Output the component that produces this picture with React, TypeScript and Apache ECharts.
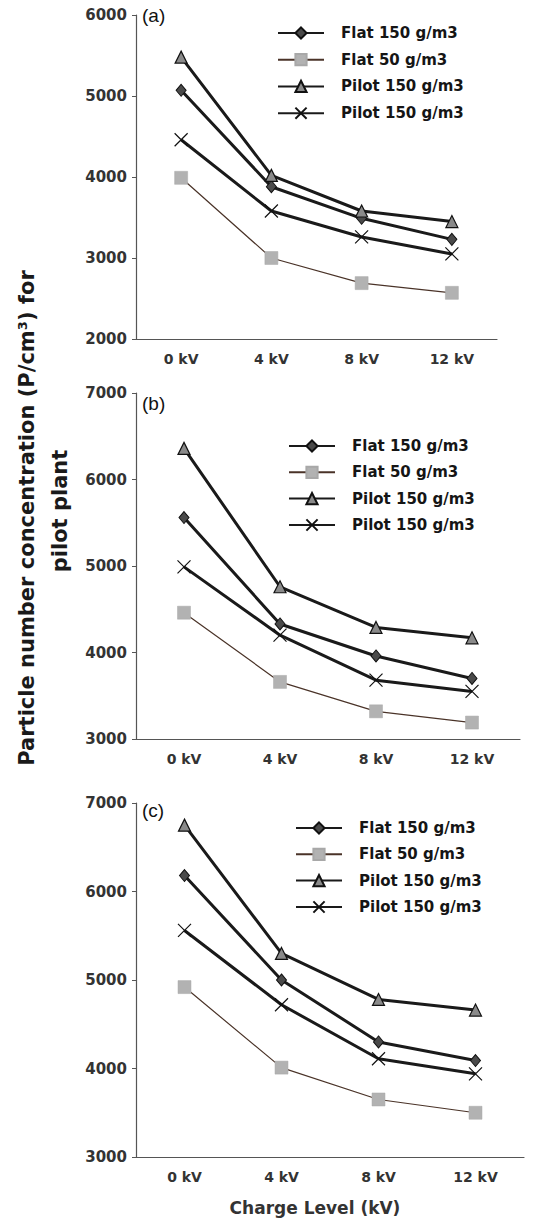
import React, { useEffect, useRef } from "react";
import * as echarts from "echarts";

const categories = ["0 kV", "4 kV", "8 kV", "12 kV"];
const legendLabels = ["Flat 150 g/m3", "Flat 50 g/m3", "Pilot 150 g/m3", "Pilot 150 g/m3"];
const panelLabels = ["(a)", "(b)", "(c)"];

const aFlat150 = [5070, 3880, 3490, 3230];
const aFlat50 = [3990, 3000, 2690, 2570];
const aPilotTri = [5480, 4020, 3580, 3450];
const aPilotX = [4460, 3580, 3260, 3050];

const bFlat150 = [5560, 4330, 3960, 3700];
const bFlat50 = [4460, 3660, 3320, 3190];
const bPilotTri = [6360, 4760, 4290, 4170];
const bPilotX = [4990, 4200, 3680, 3550];

const cFlat150 = [6180, 5000, 4300, 4090];
const cFlat50 = [4920, 4010, 3650, 3500];
const cPilotTri = [6750, 5300, 4780, 4660];
const cPilotX = [5560, 4720, 4110, 3940];

const yRanges = [
  [2000, 6000],
  [3000, 7000],
  [3000, 7000],
];

const yTitle1 = "Particle number concentration (P/cm³) for";
const yTitle2 = "pilot plant";
const xTitle = "Charge Level (kV)";

const FONT = "DejaVu Sans";

export default function App() {
  const ref = useRef<HTMLDivElement>(null);
  useEffect(() => {
    if (!ref.current) return;
    const chart = echarts.init(ref.current, undefined, { renderer: "svg" });
    const panels = [
      [aFlat150, aFlat50, aPilotTri, aPilotX],
      [bFlat150, bFlat50, bPilotTri, bPilotX],
      [cFlat150, cFlat50, cPilotTri, cPilotX],
    ];
    const grids = [
      { left: 136, top: 15, width: 361, height: 324 },
      { left: 136, top: 393, width: 384, height: 346 },
      { left: 136, top: 803, width: 388, height: 354 },
    ];
    const legendPos = [
      { left: 277, top: 25, itemGap: 10.7 },
      { left: 288, top: 438, itemGap: 10.3 },
      { left: 295, top: 820, itemGap: 10.3 },
    ];
    const labelTops = [6, 394, 801];
    const nameMap: Record<string, string> = {};
    const series: any[] = [];
    const legends: any[] = [];
    panels.forEach((p, gi) => {
      const names: string[] = [];
      p.forEach((vals, si) => {
        const name = `${legendLabels[si]} #${gi}${si}`;
        nameMap[name] = legendLabels[si];
        names.push(name);
        const base: any = {
          name,
          type: "line",
          xAxisIndex: gi,
          yAxisIndex: gi,
          data: vals,
          showSymbol: true,
        };
        if (si === 0) {
          Object.assign(base, {
            symbol: "diamond",
            symbolSize: [10, 12],
            lineStyle: { color: "#1a1a1a", width: 3 },
            itemStyle: { color: "#4a4a4a", borderColor: "#111", borderWidth: 1 },
            z: 4,
          });
        } else if (si === 1) {
          Object.assign(base, {
            symbol: "rect",
            symbolSize: 13,
            lineStyle: { color: "#4a3328", width: 1.2 },
            itemStyle: { color: "#b2b2b2", borderColor: "#a8a8a8", borderWidth: 0.5 },
            z: 3,
          });
        } else if (si === 2) {
          Object.assign(base, {
            symbol: "triangle",
            symbolSize: 12,
            lineStyle: { color: "#1a1a1a", width: 3 },
            itemStyle: { color: "#8a8a8a", borderColor: "#111", borderWidth: 1.2 },
            z: 5,
          });
        } else {
          Object.assign(base, {
            symbol: "path://M0,0L10,10M10,0L0,10",
            symbolSize: 13,
            lineStyle: { color: "#1a1a1a", width: 3 },
            itemStyle: { color: "none", borderColor: "#111", borderWidth: 1.2 },
            z: 2,
          });
        }
        series.push(base);
      });
      legends.push({
        orient: "vertical",
        left: legendPos[gi].left,
        top: legendPos[gi].top,
        padding: 0,
        itemGap: legendPos[gi].itemGap,
        itemWidth: 46,
        itemHeight: 14,
        selectedMode: false,
        data: names,
        formatter: (n: string) => nameMap[n] ?? n,
        textStyle: {
          fontFamily: FONT,
          fontWeight: "bold",
          fontSize: 15,
          lineHeight: 16,
          color: "#151515",
          padding: [0, 0, 0, 12],
        },
      });
    });

    const xAxes = grids.map((_, gi) => ({
      type: "category",
      gridIndex: gi,
      data: categories,
      boundaryGap: true,
      axisTick: { show: false },
      axisLine: { lineStyle: { color: "#555", width: 1.2 } },
      axisLabel: {
        margin: 13,
        fontFamily: FONT,
        fontWeight: "bold",
        fontSize: 14,
        color: "#333",
      },
      splitLine: { show: false },
    }));
    const yAxes = grids.map((_, gi) => ({
      type: "value",
      gridIndex: gi,
      min: yRanges[gi][0],
      max: yRanges[gi][1],
      interval: 1000,
      axisLine: { show: true, lineStyle: { color: "#555", width: 1.2 } },
      axisTick: { show: true, length: 4, lineStyle: { color: "#555" } },
      splitLine: { show: false },
      axisLabel: {
        margin: 9,
        fontFamily: FONT,
        fontWeight: "bold",
        fontSize: 15,
        color: "#333",
        formatter: (v: number) => String(v),
      },
    }));

    const graphic: any[] = [
      ...panelLabels.map((t, i) => ({
        type: "text",
        left: 142,
        top: labelTops[i],
        style: {
          text: t,
          font: `19px "Liberation Sans", Arial, sans-serif`,
          fill: "#111",
        },
      })),
      {
        type: "text",
        x: 27,
        y: 518,
        rotation: Math.PI / 2,
        style: {
          text: yTitle1,
          fontFamily: FONT,
          fontWeight: "bold",
          fontSize: 21,
          fill: "#1a1a1a",
          align: "center",
          verticalAlign: "middle",
        },
      },
      {
        type: "text",
        x: 60,
        y: 511,
        rotation: Math.PI / 2,
        style: {
          text: yTitle2,
          fontFamily: FONT,
          fontWeight: "bold",
          fontSize: 21,
          fill: "#1a1a1a",
          align: "center",
          verticalAlign: "middle",
        },
      },
      {
        type: "text",
        x: 315,
        y: 1208,
        style: {
          text: xTitle,
          fontFamily: FONT,
          fontWeight: "bold",
          fontSize: 17,
          fill: "#333",
          align: "center",
          verticalAlign: "middle",
        },
      },
    ];

    chart.setOption({
      animation: false,
      backgroundColor: "#fff",
      grid: grids,
      xAxis: xAxes,
      yAxis: yAxes,
      legend: legends,
      series,
      graphic,
    });
    return () => chart.dispose();
  }, []);
  return (
    <div
      ref={ref}
      style={{ position: "absolute", left: 0, top: 0, width: 547, height: 1222 }}
    />
  );
}
